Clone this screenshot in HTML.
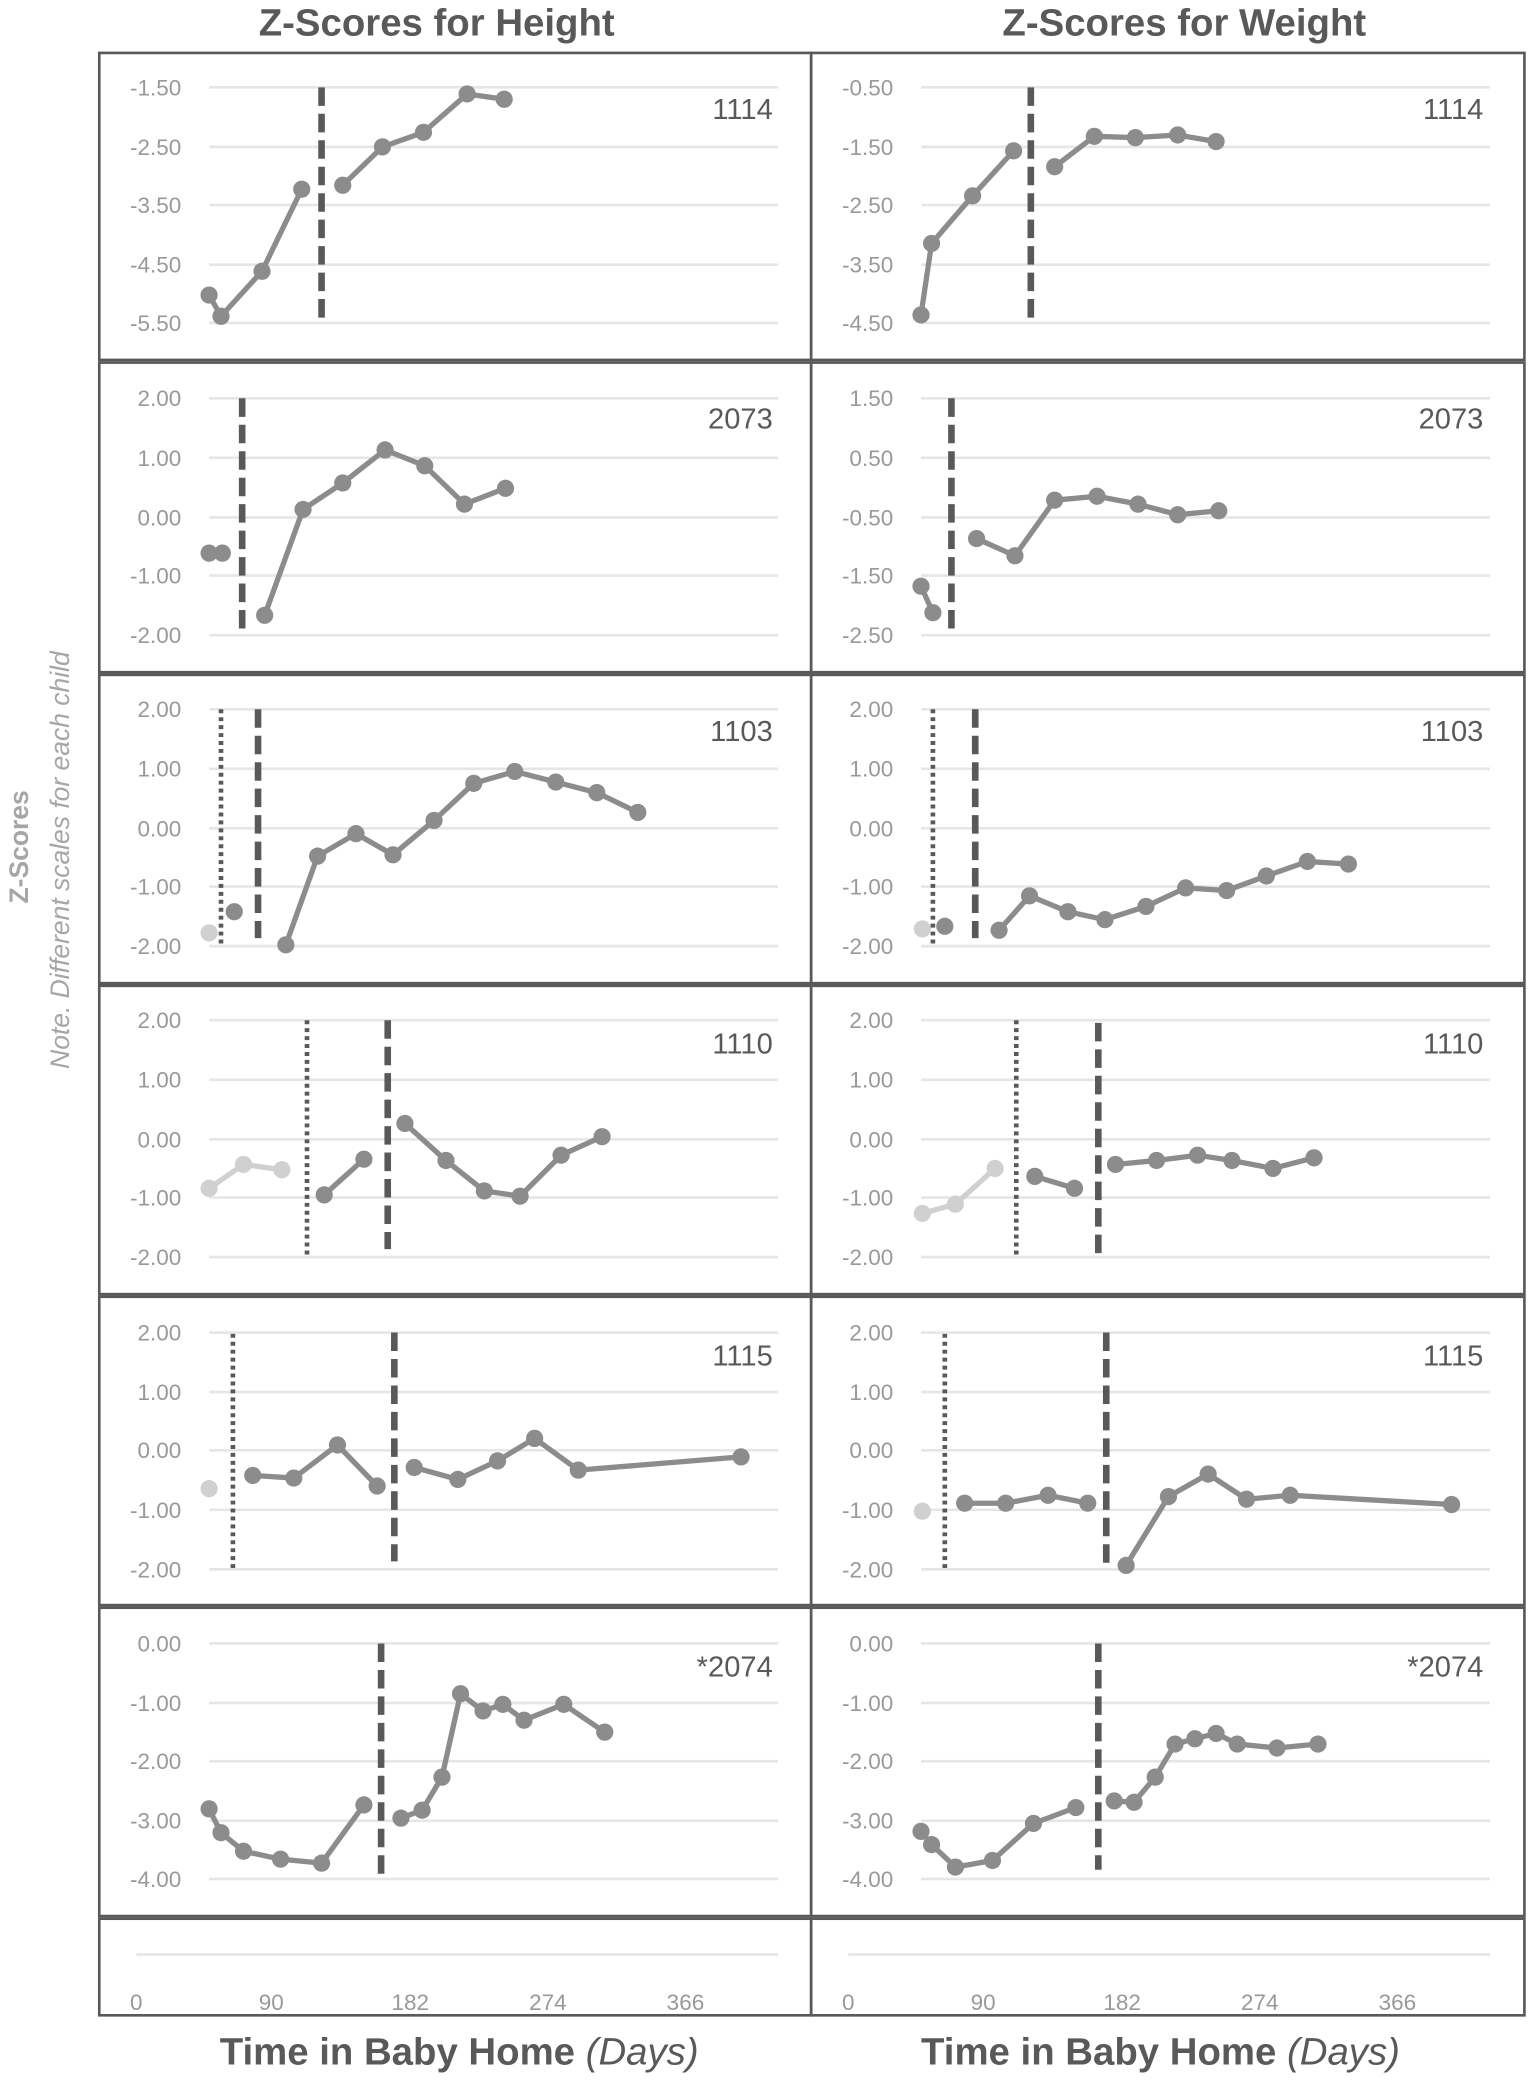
<!DOCTYPE html>
<html><head><meta charset="utf-8"><style>
html,body{margin:0;padding:0;background:#fff;}
svg{display:block;}
text{font-family:"Liberation Sans",sans-serif;}
.t{fill:#999;font-size:17px;text-anchor:end;}
.x{fill:#999;font-size:17px;text-anchor:middle;}
.n{fill:#595959;font-size:22px;text-anchor:end;}
.g{stroke:#e6e6e6;stroke-width:2;}
.b{fill:none;stroke:#595959;stroke-width:2;}
.s{fill:none;stroke:#8c8c8c;stroke-width:4;stroke-linejoin:round;}
.l{fill:none;stroke:#d0d0d0;stroke-width:4;}
.d{stroke:#595959;stroke-width:5;stroke-dasharray:14 6;}
.o{stroke:#595959;stroke-width:3.5;stroke-dasharray:3 3;}
</style></head><body>
<svg width="1535" height="2082" viewBox="0 0 1160 1573.4" xmlns="http://www.w3.org/2000/svg">
<g font-weight="bold" fill="#595959" font-size="29" text-anchor="middle">
<text x="330" y="27">Z-Scores for Height</text>
<text x="895" y="27">Z-Scores for Weight</text>
<text x="347" y="1560">Time in Baby Home <tspan font-style="italic" font-weight="normal">(Days)</tspan></text>
<text x="877" y="1560">Time in Baby Home <tspan font-style="italic" font-weight="normal">(Days)</tspan></text>
</g>
<text transform="translate(21,640) rotate(-90)" text-anchor="middle" font-size="20" font-weight="bold" fill="#a6a6a6">Z-Scores</text>
<text transform="translate(52,650) rotate(-90)" text-anchor="middle" font-size="20" font-style="italic" fill="#a6a6a6">Note. Different scales for each child</text>

<g class="b">
<rect x="75" y="40" width="538" height="232"/><rect x="613" y="40" width="539" height="232"/>
<rect x="75" y="274" width="538" height="234"/><rect x="613" y="274" width="539" height="234"/>
<rect x="75" y="510" width="538" height="233"/><rect x="613" y="510" width="539" height="233"/>
<rect x="75" y="745" width="538" height="233"/><rect x="613" y="745" width="539" height="233"/>
<rect x="75" y="980" width="538" height="233"/><rect x="613" y="980" width="539" height="233"/>
<rect x="75" y="1215" width="538" height="233"/><rect x="613" y="1215" width="539" height="233"/>
<rect x="75" y="1450" width="538" height="73"/><rect x="613" y="1450" width="539" height="73"/>
</g>

<g class="g">
<path d="M158 66H588M158 111H588M158 155H588M158 200H588M158 244H588"/>
<path d="M696 66H1126M696 111H1126M696 155H1126M696 200H1126M696 244H1126"/>
<path d="M158 301H588M158 346H588M158 391H588M158 435H588M158 480H588"/>
<path d="M696 301H1126M696 346H1126M696 391H1126M696 435H1126M696 480H1126"/>
<path d="M158 536H588M158 581H588M158 626H588M158 670H588M158 715H588"/>
<path d="M696 536H1126M696 581H1126M696 626H1126M696 670H1126M696 715H1126"/>
<path d="M158 771H588M158 816H588M158 861H588M158 905H588M158 950H588"/>
<path d="M696 771H1126M696 816H1126M696 861H1126M696 905H1126M696 950H1126"/>
<path d="M158 1007H588M158 1052H588M158 1096H588M158 1141H588M158 1186H588"/>
<path d="M696 1007H1126M696 1052H1126M696 1096H1126M696 1141H1126M696 1186H1126"/>
<path d="M158 1242H588M158 1287H588M158 1331H588M158 1376H588M158 1420H588"/>
<path d="M696 1242H1126M696 1287H1126M696 1331H1126M696 1376H1126M696 1420H1126"/>
<path d="M103 1477H588M641 1477H1126"/>
</g>

<g class="t">
<text x="137" y="72">-1.50</text><text x="137" y="117">-2.50</text><text x="137" y="161">-3.50</text><text x="137" y="206">-4.50</text><text x="137" y="250">-5.50</text>
<text x="675" y="72">-0.50</text><text x="675" y="117">-1.50</text><text x="675" y="161">-2.50</text><text x="675" y="206">-3.50</text><text x="675" y="250">-4.50</text>
<text x="137" y="307">2.00</text><text x="137" y="352">1.00</text><text x="137" y="397">0.00</text><text x="137" y="441">-1.00</text><text x="137" y="486">-2.00</text>
<text x="675" y="307">1.50</text><text x="675" y="352">0.50</text><text x="675" y="397">-0.50</text><text x="675" y="441">-1.50</text><text x="675" y="486">-2.50</text>
<text x="137" y="542">2.00</text><text x="137" y="587">1.00</text><text x="137" y="632">0.00</text><text x="137" y="676">-1.00</text><text x="137" y="721">-2.00</text>
<text x="675" y="542">2.00</text><text x="675" y="587">1.00</text><text x="675" y="632">0.00</text><text x="675" y="676">-1.00</text><text x="675" y="721">-2.00</text>
<text x="137" y="777">2.00</text><text x="137" y="822">1.00</text><text x="137" y="867">0.00</text><text x="137" y="911">-1.00</text><text x="137" y="956">-2.00</text>
<text x="675" y="777">2.00</text><text x="675" y="822">1.00</text><text x="675" y="867">0.00</text><text x="675" y="911">-1.00</text><text x="675" y="956">-2.00</text>
<text x="137" y="1013">2.00</text><text x="137" y="1058">1.00</text><text x="137" y="1102">0.00</text><text x="137" y="1147">-1.00</text><text x="137" y="1192">-2.00</text>
<text x="675" y="1013">2.00</text><text x="675" y="1058">1.00</text><text x="675" y="1102">0.00</text><text x="675" y="1147">-1.00</text><text x="675" y="1192">-2.00</text>
<text x="137" y="1248">0.00</text><text x="137" y="1293">-1.00</text><text x="137" y="1337">-2.00</text><text x="137" y="1382">-3.00</text><text x="137" y="1426">-4.00</text>
<text x="675" y="1248">0.00</text><text x="675" y="1293">-1.00</text><text x="675" y="1337">-2.00</text><text x="675" y="1382">-3.00</text><text x="675" y="1426">-4.00</text>
</g>
<g class="x">
<text x="103" y="1519">0</text><text x="205" y="1519">90</text><text x="310" y="1519">182</text><text x="414" y="1519">274</text><text x="518" y="1519">366</text>
<text x="641" y="1519">0</text><text x="743" y="1519">90</text><text x="848" y="1519">182</text><text x="952" y="1519">274</text><text x="1056" y="1519">366</text>
</g>

<g class="n">
<text x="584" y="90">1114</text><text x="1121" y="90">1114</text>
<text x="584" y="324">2073</text><text x="1121" y="324">2073</text>
<text x="584" y="560">1103</text><text x="1121" y="560">1103</text>
<text x="584" y="796">1110</text><text x="1121" y="796">1110</text>
<text x="584" y="1032">1115</text><text x="1121" y="1032">1115</text>
<text x="584" y="1267">*2074</text><text x="1121" y="1267">*2074</text>
</g>

<g class="d">
<path d="M243 66V240M779 66V240"/>
<path d="M183 301V476M719 301V477"/>
<path d="M195 536V709M737 536V709"/>
<path d="M293 771V944M830 773V948"/>
<path d="M298 1007V1180M836 1007V1186"/>
<path d="M288 1242V1416M830 1242V1413"/>
</g>
<g class="o">
<path d="M167 536V714M705 536V714"/>
<path d="M232 771V950M768 771V950"/>
<path d="M176 1008V1188M714 1008V1188"/>
</g>

<g>
<polyline class="s" points="158,223 167,239 198,205 228,143"/>
<polyline class="s" points="259,140 289,111 320,100 353,71 381,75"/>
<polyline class="s" points="696,238 704,184 735,148 766,114"/>
<polyline class="s" points="797,126 827,103 858,104 890,102 919,107"/>
<polyline class="s" points="158,418 168,418"/>
<polyline class="s" points="200,465 229,385 259,365 291,340 321,352 351,381 382,369"/>
<polyline class="s" points="696,443 705,463"/>
<polyline class="s" points="738,407 767,420 797,378 829,375 860,381 890,389 921,386"/>
<polyline class="s" points="216,714 240,647 269,630 297,646 328,620 358,592 389,583 420,591 451,599 482,614"/>
<polyline class="s" points="755,703 778,677 807,689 835,695 866,685 896,671 927,673 957,662 988,651 1019,653"/>
<polyline class="l" points="158,898 184,880 213,884"/>
<polyline class="s" points="245,903 275,876"/>
<polyline class="s" points="306,849 337,877 366,900 393,904 424,873 455,859"/>
<polyline class="l" points="697,917 722,910 752,883"/>
<polyline class="s" points="782,889 812,898"/>
<polyline class="s" points="843,880 874,877 905,873 931,877 962,883 993,875"/>
<polyline class="s" points="191,1115 222,1117 255,1092 285,1123"/>
<polyline class="s" points="313,1109 346,1118 376,1104 404,1087 437,1111 560,1101"/>
<polyline class="s" points="729,1136 760,1136 792,1130 822,1136"/>
<polyline class="s" points="851,1183 883,1131 913,1114 942,1133 975,1130 1097,1137"/>
<polyline class="s" points="158,1367 167,1385 184,1399 212,1405 243,1408 275,1364"/>
<polyline class="s" points="303,1374 319,1368 334,1343 348,1280 365,1293 380,1288 396,1300 426,1288 457,1309"/>
<polyline class="s" points="696,1384 704,1394 722,1411 750,1406 781,1378 813,1366"/>
<polyline class="s" points="842,1361 857,1362 873,1343 888,1318 903,1314 919,1310 935,1318 965,1321 996,1318"/>
</g>
<g fill="#8c8c8c">
<circle cx="158" cy="223" r="6.5"/><circle cx="167" cy="239" r="6.5"/><circle cx="198" cy="205" r="6.5"/><circle cx="228" cy="143" r="6.5"/>
<circle cx="259" cy="140" r="6.5"/><circle cx="289" cy="111" r="6.5"/><circle cx="320" cy="100" r="6.5"/><circle cx="353" cy="71" r="6.5"/><circle cx="381" cy="75" r="6.5"/>
<circle cx="696" cy="238" r="6.5"/><circle cx="704" cy="184" r="6.5"/><circle cx="735" cy="148" r="6.5"/><circle cx="766" cy="114" r="6.5"/>
<circle cx="797" cy="126" r="6.5"/><circle cx="827" cy="103" r="6.5"/><circle cx="858" cy="104" r="6.5"/><circle cx="890" cy="102" r="6.5"/><circle cx="919" cy="107" r="6.5"/>
<circle cx="158" cy="418" r="6.5"/><circle cx="168" cy="418" r="6.5"/>
<circle cx="200" cy="465" r="6.5"/><circle cx="229" cy="385" r="6.5"/><circle cx="259" cy="365" r="6.5"/><circle cx="291" cy="340" r="6.5"/><circle cx="321" cy="352" r="6.5"/><circle cx="351" cy="381" r="6.5"/><circle cx="382" cy="369" r="6.5"/>
<circle cx="696" cy="443" r="6.5"/><circle cx="705" cy="463" r="6.5"/>
<circle cx="738" cy="407" r="6.5"/><circle cx="767" cy="420" r="6.5"/><circle cx="797" cy="378" r="6.5"/><circle cx="829" cy="375" r="6.5"/><circle cx="860" cy="381" r="6.5"/><circle cx="890" cy="389" r="6.5"/><circle cx="921" cy="386" r="6.5"/>
<circle cx="177" cy="689" r="6.5"/>
<circle cx="216" cy="714" r="6.5"/><circle cx="240" cy="647" r="6.5"/><circle cx="269" cy="630" r="6.5"/><circle cx="297" cy="646" r="6.5"/><circle cx="328" cy="620" r="6.5"/><circle cx="358" cy="592" r="6.5"/><circle cx="389" cy="583" r="6.5"/><circle cx="420" cy="591" r="6.5"/><circle cx="451" cy="599" r="6.5"/><circle cx="482" cy="614" r="6.5"/>
<circle cx="714" cy="700" r="6.5"/>
<circle cx="755" cy="703" r="6.5"/><circle cx="778" cy="677" r="6.5"/><circle cx="807" cy="689" r="6.5"/><circle cx="835" cy="695" r="6.5"/><circle cx="866" cy="685" r="6.5"/><circle cx="896" cy="671" r="6.5"/><circle cx="927" cy="673" r="6.5"/><circle cx="957" cy="662" r="6.5"/><circle cx="988" cy="651" r="6.5"/><circle cx="1019" cy="653" r="6.5"/>
<circle cx="245" cy="903" r="6.5"/><circle cx="275" cy="876" r="6.5"/>
<circle cx="306" cy="849" r="6.5"/><circle cx="337" cy="877" r="6.5"/><circle cx="366" cy="900" r="6.5"/><circle cx="393" cy="904" r="6.5"/><circle cx="424" cy="873" r="6.5"/><circle cx="455" cy="859" r="6.5"/>
<circle cx="782" cy="889" r="6.5"/><circle cx="812" cy="898" r="6.5"/>
<circle cx="843" cy="880" r="6.5"/><circle cx="874" cy="877" r="6.5"/><circle cx="905" cy="873" r="6.5"/><circle cx="931" cy="877" r="6.5"/><circle cx="962" cy="883" r="6.5"/><circle cx="993" cy="875" r="6.5"/>
<circle cx="191" cy="1115" r="6.5"/><circle cx="222" cy="1117" r="6.5"/><circle cx="255" cy="1092" r="6.5"/><circle cx="285" cy="1123" r="6.5"/>
<circle cx="313" cy="1109" r="6.5"/><circle cx="346" cy="1118" r="6.5"/><circle cx="376" cy="1104" r="6.5"/><circle cx="404" cy="1087" r="6.5"/><circle cx="437" cy="1111" r="6.5"/><circle cx="560" cy="1101" r="6.5"/>
<circle cx="729" cy="1136" r="6.5"/><circle cx="760" cy="1136" r="6.5"/><circle cx="792" cy="1130" r="6.5"/><circle cx="822" cy="1136" r="6.5"/>
<circle cx="851" cy="1183" r="6.5"/><circle cx="883" cy="1131" r="6.5"/><circle cx="913" cy="1114" r="6.5"/><circle cx="942" cy="1133" r="6.5"/><circle cx="975" cy="1130" r="6.5"/><circle cx="1097" cy="1137" r="6.5"/>
<circle cx="158" cy="1367" r="6.5"/><circle cx="167" cy="1385" r="6.5"/><circle cx="184" cy="1399" r="6.5"/><circle cx="212" cy="1405" r="6.5"/><circle cx="243" cy="1408" r="6.5"/><circle cx="275" cy="1364" r="6.5"/>
<circle cx="303" cy="1374" r="6.5"/><circle cx="319" cy="1368" r="6.5"/><circle cx="334" cy="1343" r="6.5"/><circle cx="348" cy="1280" r="6.5"/><circle cx="365" cy="1293" r="6.5"/><circle cx="380" cy="1288" r="6.5"/><circle cx="396" cy="1300" r="6.5"/><circle cx="426" cy="1288" r="6.5"/><circle cx="457" cy="1309" r="6.5"/>
<circle cx="696" cy="1384" r="6.5"/><circle cx="704" cy="1394" r="6.5"/><circle cx="722" cy="1411" r="6.5"/><circle cx="750" cy="1406" r="6.5"/><circle cx="781" cy="1378" r="6.5"/><circle cx="813" cy="1366" r="6.5"/>
<circle cx="842" cy="1361" r="6.5"/><circle cx="857" cy="1362" r="6.5"/><circle cx="873" cy="1343" r="6.5"/><circle cx="888" cy="1318" r="6.5"/><circle cx="903" cy="1314" r="6.5"/><circle cx="919" cy="1310" r="6.5"/><circle cx="935" cy="1318" r="6.5"/><circle cx="965" cy="1321" r="6.5"/><circle cx="996" cy="1318" r="6.5"/>
</g>
<g fill="#d0d0d0">
<circle cx="158" cy="705" r="6.5"/><circle cx="697" cy="702" r="6.5"/>
<circle cx="158" cy="898" r="6.5"/><circle cx="184" cy="880" r="6.5"/><circle cx="213" cy="884" r="6.5"/>
<circle cx="697" cy="917" r="6.5"/><circle cx="722" cy="910" r="6.5"/><circle cx="752" cy="883" r="6.5"/>
<circle cx="158" cy="1125" r="6.5"/><circle cx="697" cy="1142" r="6.5"/>
</g>
</svg>
</body></html>
